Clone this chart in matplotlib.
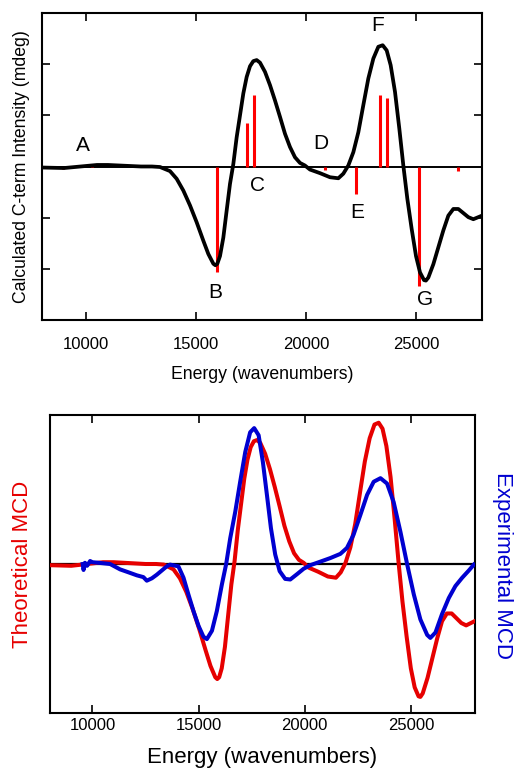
import matplotlib
matplotlib.use("Agg")
import matplotlib.pyplot as plt

plt.rcParams["font.family"] = ["Liberation Sans", "DejaVu Sans"]

# calculated C-term MCD curve (energy in cm-1, intensity in arbitrary units)
calc_e = [8000, 9000, 9500, 10000, 10500, 11000, 11500, 12000, 12500, 13000,
          13364, 13818, 14121, 14424, 14727, 15030, 15333, 15561, 15788, 15880,
          15970, 16091, 16242, 16394, 16545, 16697, 16848, 17000, 17152, 17303,
          17455, 17606, 17758, 17909, 18136, 18364, 18591, 18818, 19045, 19273,
          19500, 19727, 19950, 20182, 20636, 21091, 21470, 21697, 21924, 22152,
          22379, 22606, 22833, 23061, 23288, 23485, 23667, 23848, 24045, 24242,
          24424, 24606, 24803, 25000, 25182, 25364, 25450, 25561, 25788, 26015,
          26242, 26470, 26697, 26924, 27152, 27379, 27606, 27833, 28000]
calc_i = [-0.02, -0.03, -0.01, 0.01, 0.03, 0.03, 0.02, 0.01, 0.0, 0.0,
          -0.01, -0.09, -0.24, -0.47, -0.76, -1.09, -1.45, -1.71, -1.9, -1.93,
          -1.9, -1.75, -1.39, -0.86, -0.34, 0.05, 0.57, 1.0, 1.43, 1.75,
          1.96, 2.06, 2.08, 2.03, 1.85, 1.59, 1.29, 0.97, 0.64, 0.38,
          0.18, 0.07, 0.02, -0.06, -0.13, -0.21, -0.23, -0.14, 0.02, 0.28,
          0.67, 1.2, 1.72, 2.11, 2.34, 2.37, 2.27, 1.98, 1.46, 0.74,
          0.02, -0.63, -1.22, -1.75, -2.07, -2.22, -2.23, -2.17, -1.91, -1.58,
          -1.25, -0.96, -0.83, -0.83, -0.91, -0.99, -1.03, -0.99, -0.96]

# individual transitions (stick spectrum)
stick_e = [8950, 10250, 15940, 17305, 17650, 20864, 22273, 23377, 23695, 25136, 26923]
stick_i = [-0.05, 0.03, -2.07, 0.85, 1.39, -0.07, -0.54, 1.40, 1.33, -2.33, -0.09]

# band labels
band_names = ["A", "B", "C", "D", "E", "F", "G"]
band_e = [9864, 15864, 17773, 20682, 22318, 23273, 25409]
band_y = [0.41, -2.47, -0.37, 0.45, -0.90, 2.75, -2.59]

# experimental MCD (scaled onto the same axis)
exp_e = [9540, 9580, 9650, 9750, 9890, 10000, 10300, 10830, 11300, 11700,
         12090, 12400, 12560, 12800, 13030, 13500, 13660, 14050, 14290, 14520,
         14760, 15000, 15230, 15390, 15630, 15860, 16100, 16300, 16490, 16730,
         16960, 17200, 17430, 17620, 17830, 18030, 18220, 18410, 18610, 18820,
         19080, 19320, 19640, 19950, 20260, 20740, 21210, 21680, 21990, 22300,
         22620, 22940, 23250, 23570, 23880, 24190, 24510, 24830, 25140, 25450,
         25770, 25920, 26160, 26470, 26790, 27100, 27420, 27730, 27970]
exp_i = [0.0, -0.1, 0.02, -0.03, 0.05, 0.03, 0.02, 0.0, -0.09, -0.14,
         -0.19, -0.22, -0.28, -0.24, -0.18, -0.04, -0.01, -0.04, -0.23, -0.51,
         -0.79, -1.04, -1.22, -1.26, -1.12, -0.79, -0.34, 0.0, 0.43, 0.88,
         1.38, 1.88, 2.21, 2.28, 2.16, 1.71, 1.16, 0.6, 0.16, -0.12,
         -0.25, -0.26, -0.17, -0.08, -0.02, 0.04, 0.1, 0.17, 0.27, 0.49,
         0.82, 1.16, 1.38, 1.44, 1.35, 1.04, 0.54, -0.01, -0.51, -0.93,
         -1.19, -1.24, -1.15, -0.84, -0.57, -0.37, -0.23, -0.11, -0.01]

xticks = [10000, 15000, 20000, 25000]
red = "#e60000"
blue = "#0000d0"

fig = plt.figure(figsize=(5.16, 7.68), dpi=100)

# ---- top panel: calculated spectrum with sticks ----
ax1 = fig.add_axes([42 / 516, 1 - 320 / 768, 440 / 516, 307 / 768])
ax1.axhline(0, color="black", lw=1.4, zorder=2)
ax1.vlines(stick_e, 0, stick_i, color="#ff0000", lw=2.2, zorder=3)
ax1.plot(calc_e, calc_i, color="black", lw=2.7, zorder=4, solid_joinstyle="round")
for name, e, y in zip(band_names, band_e, band_y):
    ax1.text(e, y, name, fontsize=15, ha="center", va="center")
ax1.set_xlim(8000, 28000)
ax1.set_ylim(-3, 3)
ax1.set_xticks(xticks)
ax1.set_xticklabels([str(t) for t in xticks], fontsize=12)
ax1.set_yticks([-2, -1, 1, 2])
ax1.set_yticklabels([])
ax1.tick_params(direction="in", top=True, right=True, length=6, width=1.2)
ax1.tick_params(axis="x", pad=12)
ax1.set_xlabel("Energy (wavenumbers)", fontsize=12.7, labelpad=10)
ax1.set_ylabel("Calculated C-term Intensity (mdeg)", fontsize=12.7, labelpad=5)
for s in ax1.spines.values():
    s.set_linewidth(1.5)

# ---- bottom panel: theory vs experiment ----
ax2 = fig.add_axes([50 / 516, 1 - 713 / 768, 424.5 / 516, 298 / 768])
ax2.axhline(0, color="black", lw=1.6, zorder=2)
ax2.plot(calc_e, calc_i, color=red, lw=2.9, zorder=3, solid_joinstyle="round")
ax2.plot(exp_e, exp_i, color=blue, lw=2.9, zorder=4, solid_joinstyle="round")
ax2.set_xlim(8000, 28000)
ax2.set_ylim(-2.5, 2.5)
ax2.set_xticks(xticks)
ax2.set_xticklabels([str(t) for t in xticks], fontsize=12)
ax2.set_yticks([])
ax2.tick_params(direction="in", top=True, length=6, width=1.2)
ax2.set_xlabel("Energy (wavenumbers)", fontsize=16, labelpad=10)
ax2.set_ylabel("Theoretical MCD", fontsize=16, color=red, labelpad=12)
for s in ax2.spines.values():
    s.set_linewidth(1.5)
fig.text(502 / 516, 1 - 565 / 768, "Experimental MCD", fontsize=16, color=blue,
         rotation=270, ha="center", va="center")

fig.savefig("out.png", dpi=100)
